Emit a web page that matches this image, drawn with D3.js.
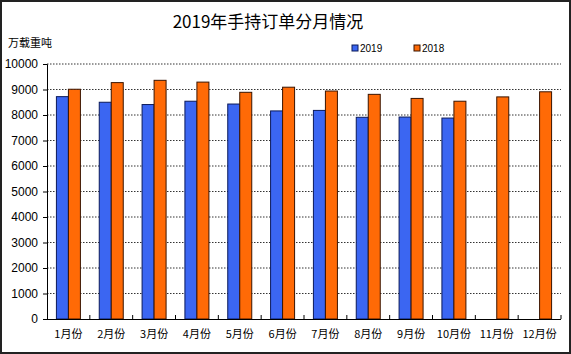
<!DOCTYPE html>
<html>
<head>
<meta charset="utf-8">
<script src="https://cdn.jsdelivr.net/npm/d3@7"></script>
<style>
  body { margin: 0; background: #fff; }
  svg { display: block; }
</style>
</head>
<body>
<div id="chart"></div>
<script>
var months = ["1月份","2月份","3月份","4月份","5月份","6月份","7月份","8月份","9月份","10月份","11月份","12月份"];
var series = ["2019", "2018"];
var values2019 = [8720, 8500, 8410, 8540, 8430, 8160, 8180, 7910, 7920, 7880, null, null];
var values2018 = [9010, 9270, 9360, 9290, 8890, 9090, 8940, 8810, 8650, 8540, 8710, 8910];
var yTicks = [0,1000,2000,3000,4000,5000,6000,7000,8000,9000,10000];
var colors = ["#3b66f2", "#ff6a06"];
var strokes = ["#0b1a5a", "#3a1400"];

var W = 571, H = 354;
var margin = {left: 47, right: 10, top: 64, bottom: 35};

var svg = d3.select("#chart").append("svg")
  .attr("width", W).attr("height", H);

svg.append("rect")
  .attr("x", 1).attr("y", 1).attr("width", W - 2).attr("height", H - 2)
  .attr("fill", "#fff").attr("stroke", "#222").attr("stroke-width", 2);

var x = d3.scaleBand().domain(months).range([margin.left, W - margin.right]);
var x1 = d3.scaleBand().domain(series).range([0, 24]);
var y = d3.scaleLinear().domain([0, 10000]).range([H - margin.bottom, margin.top]);

// gridlines
svg.selectAll("line.grid")
  .data(yTicks.filter(function(d) { return d > 0; }))
  .enter().append("line")
  .attr("class", "grid")
  .attr("x1", margin.left).attr("x2", W - margin.right)
  .attr("y1", function(d) { return y(d); }).attr("y2", function(d) { return y(d); })
  .attr("stroke", "#333").attr("stroke-width", 1).attr("stroke-dasharray", "1.5,1.5");

// bars
var rows = months.map(function(m, i) { return {m: m, v: [values2019[i], values2018[i]]}; });
var groups = svg.selectAll("g.month").data(rows).enter().append("g")
  .attr("transform", function(d) { return "translate(" + (x(d.m) + (x.bandwidth() - 24) / 2) + ",0)"; });
groups.selectAll("rect")
  .data(function(d) { return series.map(function(s, j) { return {s: s, j: j, v: d.v[j]}; }).filter(function(e) { return e.v != null; }); })
  .enter().append("rect")
  .attr("x", function(d) { return x1(d.s); })
  .attr("width", x1.bandwidth())
  .attr("y", function(d) { return y(d.v); })
  .attr("height", function(d) { return y(0) - y(d.v); })
  .attr("fill", function(d) { return colors[d.j]; })
  .attr("stroke", function(d) { return strokes[d.j]; })
  .attr("stroke-width", 1);

// y axis
var yAxis = svg.append("g")
  .attr("transform", "translate(" + margin.left + ",0)")
  .call(d3.axisLeft(y).tickValues(yTicks).tickSize(4).tickPadding(5).tickFormat(d3.format("d")));
yAxis.select(".domain").attr("stroke", "#000");
yAxis.selectAll("text").attr("font-family", "Liberation Sans, Arial, sans-serif").attr("font-size", 12).attr("fill", "#000");

// x axis
var xAxis = svg.append("g")
  .attr("transform", "translate(0," + y(0) + ")")
  .call(d3.axisBottom(x).tickSize(0).tickPadding(11));
xAxis.select(".domain").attr("stroke", "#000").attr("d", "M" + margin.left + ",0.5H" + (W - margin.right));
xAxis.selectAll("text").attr("font-family", "Noto Sans CJK SC, sans-serif").attr("font-size", 11).attr("fill", "#000");
svg.selectAll("line.xtick")
  .data(months.slice(1).concat(["end"]))
  .enter().append("line")
  .attr("class", "xtick")
  .attr("x1", function(d) { return d === "end" ? W - margin.right : x(d); })
  .attr("x2", function(d) { return d === "end" ? W - margin.right : x(d); })
  .attr("y1", y(0)).attr("y2", y(0) - 4)
  .attr("stroke", "#000");

// title
svg.append("text")
  .attr("x", 268).attr("y", 28)
  .attr("text-anchor", "middle")
  .attr("font-family", "Noto Sans CJK SC, sans-serif")
  .attr("font-size", 17)
  .text("2019年手持订单分月情况");

svg.append("text")
  .attr("x", 8).attr("y", 47)
  .attr("font-family", "Noto Sans CJK SC, sans-serif")
  .attr("font-size", 11)
  .text("万载重吨");

// legend
var legendX = [352, 414];
var legend = svg.selectAll("g.legend").data(series).enter().append("g")
  .attr("transform", function(d, i) { return "translate(" + legendX[i] + ",45)"; });
legend.append("rect")
  .attr("x", 0).attr("y", 0).attr("width", 6).attr("height", 6)
  .attr("fill", function(d, i) { return colors[i]; })
  .attr("stroke", function(d, i) { return strokes[i]; });
legend.append("text")
  .attr("x", 8).attr("y", 7)
  .attr("font-family", "Liberation Sans, Arial, sans-serif")
  .attr("font-size", 10)
  .text(function(d) { return d; });
</script>
</body>
</html>
